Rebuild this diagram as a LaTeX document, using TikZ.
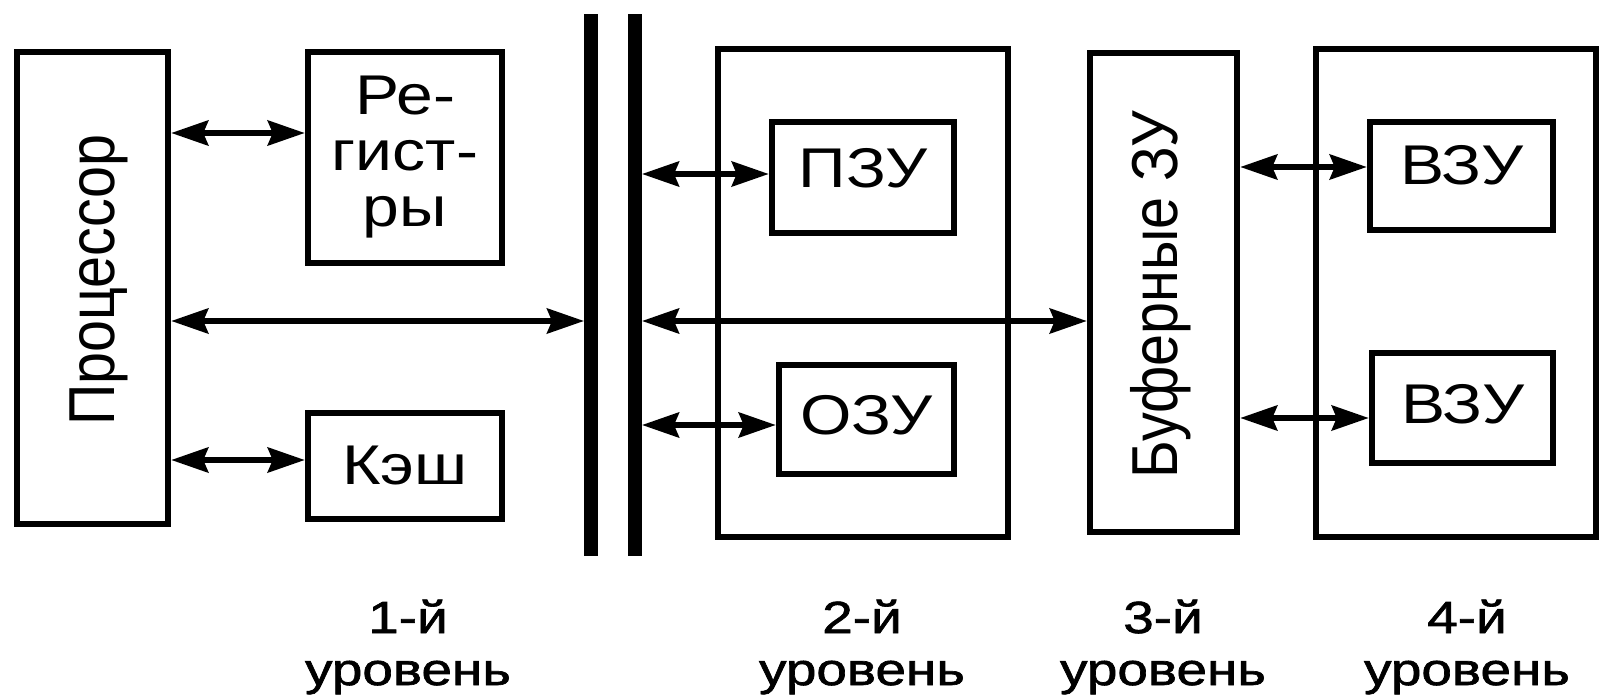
\documentclass[tikz,border=0pt]{standalone}
\usepackage{fontspec}
\setmainfont{Liberation Sans}[FakeStretch=1.18]
\newfontfamily\rotfont{Liberation Sans}
\newfontfamily\lblfont{Liberation Sans}[FakeStretch=1.22,FakeBold=1.5]
\usepackage{graphicx}
\usetikzlibrary{arrows.meta}
\newcommand{\vtext}[1]{\rotatebox{90}{\scalebox{1}[1.13]{\rotfont\fontsize{57.5}{60}\selectfont #1}}}
\begin{document}
\begin{tikzpicture}[x=1pt,y=-1pt,
  box/.style={draw=black, line width=6.5pt, inner sep=0pt},
  bar/.style={fill=black, inner sep=0pt, outer sep=0pt, minimum width=14pt},
  arr/.style={line width=5.5pt, arrows={Stealth[length=37pt,width=25pt,inset=5pt]-Stealth[length=37pt,width=25pt,inset=5pt]}},
  txt/.style={font=\fontsize{56}{56}\selectfont},
  lbl/.style={font=\lblfont\fontsize{45}{52}\selectfont, inner sep=0pt, anchor=base}
]
\fill[white] (0,0) rectangle (1599,698);
\useasboundingbox (0,0) rectangle (1599,698);

% level coordinates
\coordinate (yA) at (0,133);
\coordinate (yB) at (0,321);
\coordinate (yC) at (0,460);
\coordinate (yD) at (0,174);
\coordinate (yE) at (0,425);
\coordinate (yF) at (0,167);
\coordinate (yG) at (0,418);

% level 1
\node[box, minimum width=151pt, minimum height=472pt] (proc) at (92.5,288) {};
\node[inner sep=0pt] (proctext) at (98.5,280) {\vtext{Процессор}};
\node[box, txt, align=center, minimum width=194pt, minimum height=211pt] (reg) at (405,157.5) {Ре-\\гист-\\ры};
\node[box, txt, minimum width=194pt, minimum height=106pt] (cache) at (405,466) {Кэш};

% bus
\node[bar, minimum height=542pt] (bus1) at (591,285) {};
\node[bar, minimum height=542pt] (bus2) at (635,285) {};

% level 2
\node[box, minimum width=290pt, minimum height=488pt] (lev2) at (863,293) {};
\node[box, txt, text height=40pt, text depth=21pt, minimum width=182pt, minimum height=111pt] (pzu) at (863,177.5) {ПЗУ};
\node[box, txt, text height=40pt, text depth=11pt, minimum width=175pt, minimum height=109pt] (ozu) at (866.5,419.5) {ОЗУ};

% level 3
\node[box, minimum width=147pt, minimum height=479pt] (buf) at (1163.5,292.5) {};
\node[inner sep=0pt] (buftext) at (1161,294.5) {\vtext{Буферные ЗУ}};

% level 4
\node[box, minimum width=280pt, minimum height=488pt] (lev4) at (1456,293) {};
\node[box, txt, text height=40pt, text depth=22pt, minimum width=183pt, minimum height=108pt] (vzu1) at (1461.5,176) {ВЗУ};
\node[box, txt, text height=40pt, text depth=10pt, minimum width=181pt, minimum height=110pt] (vzu2) at (1462.5,408) {ВЗУ};

% connectors
\draw[arr] (proc.east |- yA) -- (reg.west |- yA);
\draw[arr] (proc.east |- yB) -- (bus1.west |- yB);
\draw[arr] (proc.east |- yC) -- (cache.west |- yC);
\draw[arr] (bus2.east |- yD) -- (pzu.west |- yD);
\draw[arr] (bus2.east |- yB) -- (buf.west |- yB);
\draw[arr] (bus2.east |- yE) -- (ozu.west |- yE);
\draw[arr] (buf.east |- yF) -- (vzu1.west |- yF);
\draw[arr] (buf.east |- yG) -- (vzu2.west |- yG);

% level labels
\node[lbl] (l1a) at (408,633) {1-й};
\node[lbl] (l1b) at (408,685) {уровень};
\node[lbl] (l2a) at (862,633) {2-й};
\node[lbl] (l2b) at (862,685) {уровень};
\node[lbl] (l3a) at (1163,633) {3-й};
\node[lbl] (l3b) at (1163,685) {уровень};
\node[lbl] (l4a) at (1467,633) {4-й};
\node[lbl] (l4b) at (1467,685) {уровень};
\end{tikzpicture}
\end{document}
